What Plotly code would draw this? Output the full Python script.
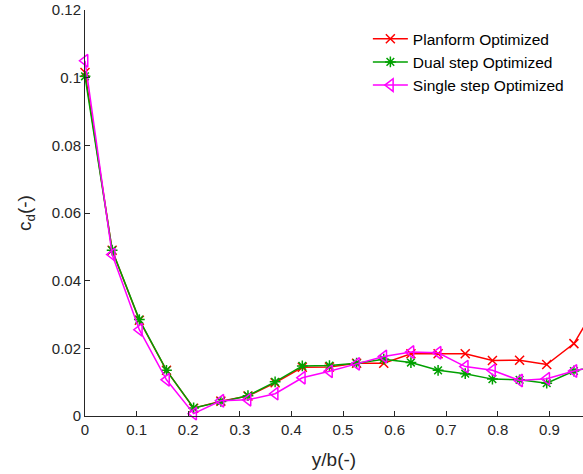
import plotly.graph_objects as go

x_vals = [0.0, 0.0526, 0.1053, 0.1579, 0.2105, 0.2632, 0.3158, 0.3684, 0.4211, 0.4737,
          0.5263, 0.5789, 0.6316, 0.6842, 0.7368, 0.7895, 0.8421, 0.8947, 0.9474, 1.0]

planform = [0.1015, 0.0490, 0.0283, 0.0135, 0.0023, 0.0044, 0.0059, 0.0098, 0.0144, 0.0145,
            0.0156, 0.0156, 0.0184, 0.0184, 0.0184, 0.0164, 0.0165, 0.0152, 0.0214, 0.0350]
dual_step = [0.1004, 0.0490, 0.0285, 0.0135, 0.0024, 0.0043, 0.0060, 0.0101, 0.0148, 0.0149,
             0.0156, 0.0168, 0.0158, 0.0135, 0.0125, 0.0109, 0.0107, 0.0097, 0.0133, 0.0150]
single_step = [0.1050, 0.0477, 0.0255, 0.0107, 0.0007, 0.0045, 0.0048, 0.0066, 0.0113, 0.0132,
               0.0154, 0.0176, 0.0189, 0.0187, 0.0146, 0.0135, 0.0105, 0.0110, 0.0133, 0.0150]

names = ["Planform Optimized", "Dual step Optimized", "Single step Optimized"]
colors = ["#FF0000", "#00A000", "#FF00FF"]
symbols = ["x-thin-open", "asterisk-open", "triangle-left-open"]
sizes = [9, 9, 11]

x_ticks = [0, 0.1, 0.2, 0.3, 0.4, 0.5, 0.6, 0.7, 0.8, 0.9]
x_tick_labels = ["0", "0.1", "0.2", "0.3", "0.4", "0.5", "0.6", "0.7", "0.8", "0.9"]
y_ticks = [0, 0.02, 0.04, 0.06, 0.08, 0.1, 0.12]
y_tick_labels = ["0", "0.02", "0.04", "0.06", "0.08", "0.1", "0.12"]

fig = go.Figure()
for name, ys, c, s, sz in zip(names, [planform, dual_step, single_step], colors, symbols, sizes):
    fig.add_trace(go.Scatter(
        x=x_vals, y=ys, name=name, mode="lines+markers", cliponaxis=False,
        line=dict(color=c, width=1.5),
        marker=dict(symbol=s, size=sz, color=c, line=dict(color=c, width=1.5)),
    ))

axis_color = "#262626"
fig.update_layout(
    width=583, height=474,
    margin=dict(l=85, r=0, t=10, b=58, autoexpand=False),
    paper_bgcolor="white", plot_bgcolor="white",
    font=dict(family="Liberation Sans, Arial, sans-serif", size=15, color=axis_color),
    showlegend=True,
    legend=dict(x=0.568, y=0.97, xanchor="left", yanchor="top",
                bgcolor="rgba(0,0,0,0)", borderwidth=0,
                font=dict(size=15.5, color="black"), itemwidth=35,
                tracegroupgap=0),
    xaxis=dict(
        range=[0, 0.965], tickmode="array", tickvals=x_ticks, ticktext=x_tick_labels,
        ticks="inside", ticklen=5, tickcolor=axis_color, automargin=False,
        tickfont=dict(size=15),
        showline=True, linecolor=axis_color, linewidth=1, mirror=False,
        showgrid=False, zeroline=False,
        title=dict(text="y/b(-)", font=dict(size=19, color=axis_color)),
    ),
    yaxis=dict(
        range=[0, 0.12], tickmode="array", tickvals=y_ticks, ticktext=y_tick_labels,
        ticks="inside", ticklen=5, tickcolor=axis_color, automargin=False,
        tickfont=dict(size=15),
        showline=True, linecolor=axis_color, linewidth=1, mirror=False,
        showgrid=False, zeroline=False,
        title=dict(text="c<sub>d</sub>(-)", font=dict(size=19, color=axis_color)),
    ),
)

fig.write_html(
    "out.html",
    config={"displayModeBar": False},
    post_script="document.body.style.margin='0';document.body.style.overflow='hidden';",
)
